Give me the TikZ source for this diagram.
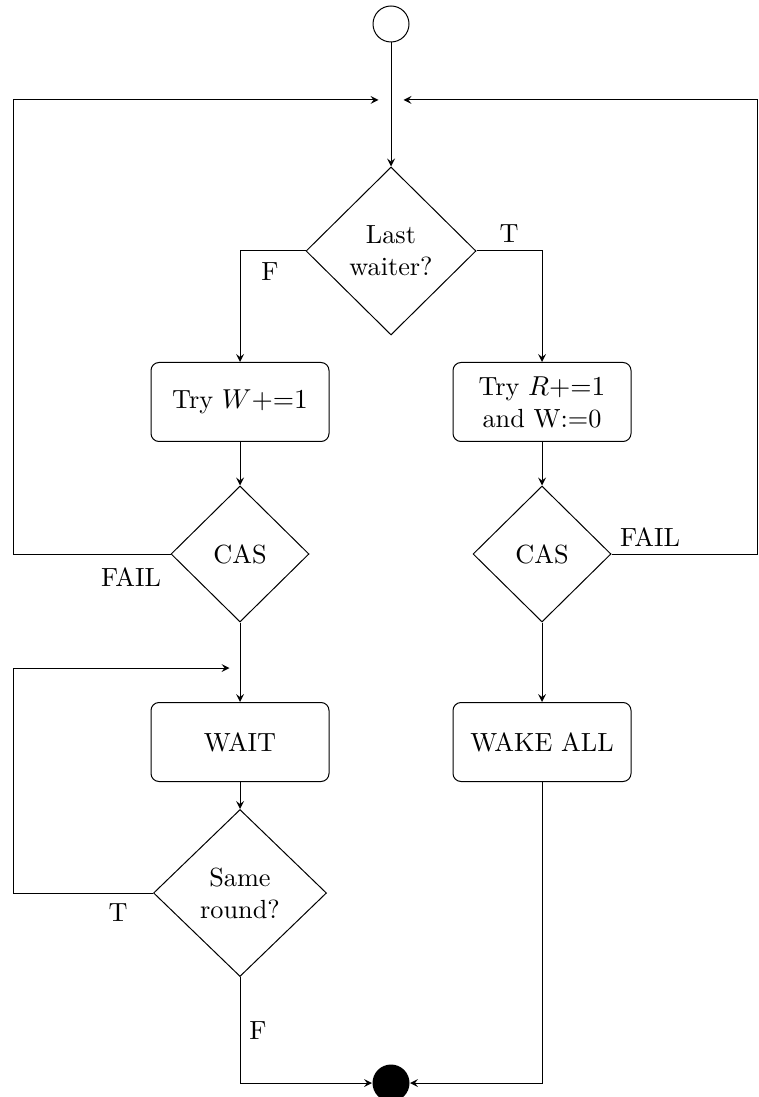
\documentclass[tikz,border=0pt]{standalone}
\usetikzlibrary{shapes.geometric}
\newlength{\pxu}
\setlength{\pxu}{0.4pt}
\begin{document}
\begin{tikzpicture}[x=0.4pt,y=-0.4pt,
  line width=0.4pt,
  every node/.style={font=\fontsize{10.5}{12.8}\selectfont},
  flow/.style={-stealth},
  procbox/.style={draw,rounded corners=3.2pt,minimum width=178\pxu,minimum height=79\pxu,align=center,inner sep=0pt},
  decide/.style={draw,diamond,aspect=1,inner sep=0pt,align=center},
  joint/.style={inner sep=0pt,minimum width=24\pxu,minimum height=2\pxu},
  tag/.style={inner sep=0pt}]
\useasboundingbox (0,0) rectangle (758,1097);

% terminals
\node[draw,circle,minimum size=36\pxu,inner sep=0pt] (s) at (391,24) {};
\node[fill,circle,minimum size=37\pxu,inner sep=0pt] (e) at (391,1083) {};

% merge points of the retry loops
\node[joint] (j) at (391,100) {};
\node[joint,minimum width=20\pxu] (j2) at (240,668) {};

% decisions
\node[decide,minimum width=170\pxu,minimum height=168\pxu] (d1) at (391,251) {Last\\waiter?};
\node[decide,minimum width=138\pxu,minimum height=136\pxu] (c1) at (240,554) {CAS};
\node[decide,minimum width=138\pxu,minimum height=136\pxu] (c2) at (542,554) {CAS};
\node[decide,minimum width=173\pxu,minimum height=167\pxu] (d3) at (240,893) {Same\\round?};

% actions
\node[procbox] (b1) at (240,402) {Try $W{+}{=}1$};
\node[procbox] (b2) at (542,402) {Try $R{+}{=}1$\\and W:=0};
\node[procbox] (w) at (240,742) {WAIT};
\node[procbox] (wk) at (542,742) {WAKE ALL};

% branch labels
\node[tag] (lf1) at (270,272) {F};
\node[tag] (lt1) at (509,234) {T};
\node[tag] (lfail1) at (131,577) {FAIL};
\node[tag] (lfail2) at (650,537) {FAIL};
\node[tag] (lt3) at (118,913) {T};
\node[tag] (lf3) at (258,1031) {F};

% loop corners
\coordinate (cl) at (13,554);
\coordinate (cr) at (757.5,554);
\coordinate (cw) at (13,893);

% connectors
\draw[flow] (s) -- (d1.north);
\draw[flow] (d1.west) -| (b1.north);
\draw[flow] (d1.east) -| (b2.north);
\draw[flow] (b1) -- (c1);
\draw[flow] (b2) -- (c2);
\draw[flow] (c1.south) -- (w.north);
\draw[flow] (c2.south) -- (wk.north);
\draw[flow] (w) -- (d3);
\draw[flow] (d3.south) |- (e.west);
\draw[flow] (wk.south) |- (e.east);
\draw[flow] (c1.west) -- (cl) |- (j.west);
\draw[flow] (c2.east) -- (cr) |- (j.east);
\draw[flow] (d3.west) -- (cw) |- (j2.west);
\end{tikzpicture}
\end{document}
